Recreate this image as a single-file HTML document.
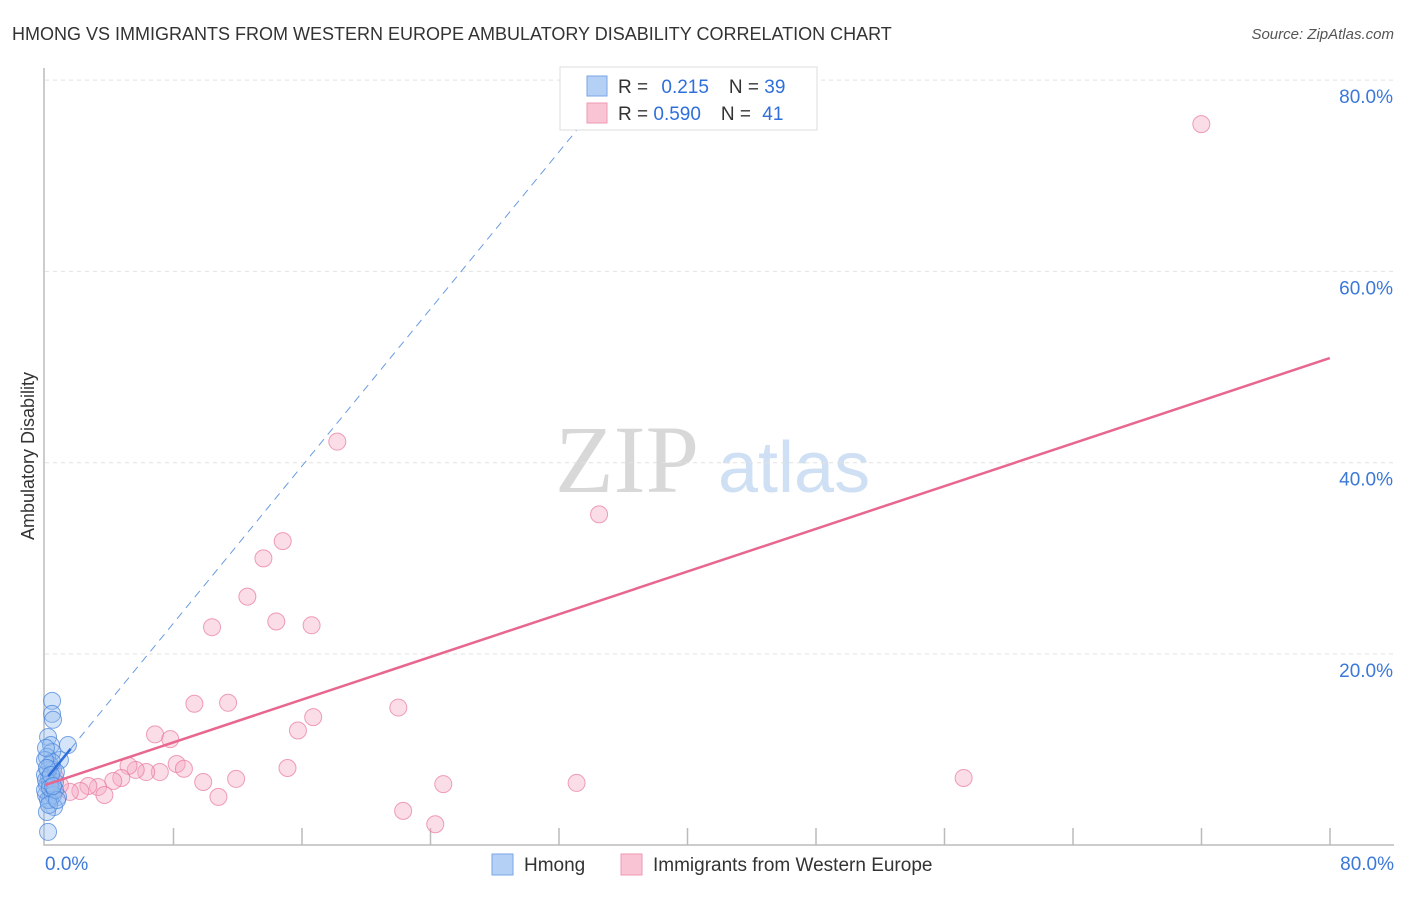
<!DOCTYPE html>
<html><head><meta charset="utf-8"><style>
body{margin:0;background:#fff;font-family:"Liberation Sans",sans-serif}
</style></head><body>
<svg width="1406" height="892" id="svg" xmlns="http://www.w3.org/2000/svg" font-family="Liberation Sans, sans-serif">
<text x="12" y="40" font-size="18" fill="#333">HMONG VS IMMIGRANTS FROM WESTERN EUROPE AMBULATORY DISABILITY CORRELATION CHART</text>
<text x="1394" y="39" font-size="15" fill="#555" font-style="italic" text-anchor="end">Source: ZipAtlas.com</text>
<text x="555" y="492" font-size="96" fill="#d8d8d8" font-family="Liberation Serif, serif">ZIP</text>
<text x="718" y="492" font-size="72" fill="#cfe0f4">atlas</text>
<text transform="translate(34,456) rotate(-90)" font-size="18" fill="#333" text-anchor="middle">Ambulatory Disability</text>
<g id="grid"></g><g id="marks"></g>
<g>
<rect x="560" y="67" width="257" height="63" fill="#fff" stroke="#ddd"/>
<rect x="587" y="76" width="20" height="20" fill="#b5d0f5" stroke="#7aa6e6"/>
<rect x="587" y="103" width="20" height="20" fill="#f9c4d4" stroke="#ee9ab4"/>
<text x="618" y="93" font-size="19" fill="#333">R = <tspan fill="#2f6fdb" dx="8">0.215</tspan><tspan dx="20" fill="#333">N = </tspan><tspan fill="#2f6fdb">39</tspan></text>
<text x="618" y="120" font-size="19" fill="#333">R = <tspan fill="#2f6fdb">0.590</tspan><tspan dx="20" fill="#333">N = </tspan><tspan fill="#2f6fdb" dx="6">41</tspan></text>
</g>
<g>
<rect x="492" y="854" width="21" height="21" fill="#b5d0f5" stroke="#7aa6e6"/>
<text x="524" y="871" font-size="19" fill="#333">Hmong</text>
<rect x="621" y="854" width="21" height="21" fill="#f9c4d4" stroke="#ee9ab4"/>
<text x="653" y="871" font-size="19" fill="#333">Immigrants from Western Europe</text>
</g>
</svg>
<script>
const blueX=[0.44,0.44,0.5,0.19,0.37,1.43,0.93,0.44,0.12,0.31,0.5,0,0.25,0.62,0.12,0.44,0.06,0.81,0.31,0.56,0.12,0.19,0,0.31,0.68,0.19,0.44,0.06,0.5,0.19,0,0.31,0.12,0.62,0.25,0.37,0.06,0.75,0.5];
const blueY=[15.1,13.74,13.12,11.32,10.48,10.48,8.92,9.76,9.24,8.4,7.88,7.36,7.04,6.62,6.3,5.78,5.26,5.06,4.74,4.0,3.48,1.4,5.78,6.52,7.66,7.88,8.7,6.82,5.26,4.74,8.92,6.0,8.08,5.78,4.22,7.36,10.18,4.74,6.2];
const pinkX=[72.0,18.2,34.5,14.8,13.6,12.6,14.4,16.6,10.4,9.3,11.4,22.0,16.7,15.75,6.85,7.8,8.2,8.65,7.15,6.3,5.65,5.2,4.75,4.25,3.3,2.7,2.2,1.55,0.93,0.62,0.44,3.7,10.8,9.85,11.9,15.1,24.8,33.1,57.2,22.3,24.3];
const pinkY=[75.4,42.2,34.6,31.8,30.0,26.0,23.4,23.0,22.8,14.8,14.9,14.4,13.4,12.0,11.6,11.1,8.5,8.0,7.66,7.66,7.88,8.3,7.04,6.72,6.1,6.2,5.68,5.58,6.3,7.14,5.46,5.26,5.06,6.62,6.94,8.08,6.4,6.52,7.04,3.6,2.2];
const yTicks=[20,40,60,80];
const xTickLabels=["0.0%","80.0%"];
const blueLine=[6.8,2.053]; // intercept, slope
const pinkLine=[6.3,0.558];
const NS="http://www.w3.org/2000/svg";
const sx=v=>45+v*16.06, sy=v=>845.3-v*9.565;
const grid=document.getElementById('grid'), marks=document.getElementById('marks');
function mk(p,tag,a){const e=document.createElementNS(NS,tag);for(const k in a)e.setAttribute(k,a[k]);p.appendChild(e);return e;}
yTicks.forEach(t=>{
 const l=mk(grid,'line',{x1:45,x2:1394,y1:sy(t),y2:sy(t),stroke:'#e2e2e2','stroke-dasharray':'4,4'});
 
 
 const tx=mk(grid,'text',{x:1393,y:sy(t)+23,'font-size':19,fill:'#3b78d8','text-anchor':'end'});
 tx.textContent=t.toFixed(1)+'%';
 
 
});
const ax=mk(grid,'path',{d:'M44,68V845H1394',fill:'none',stroke:'#bbb','stroke-width':1.5});


for(let i=1;i<=10;i++){const t=mk(grid,'line',{x1:45+128.5*i,x2:45+128.5*i,y1:828,y2:845,stroke:'#bbb','stroke-width':1.5});
 
 }
const xl0=mk(grid,'text',{x:45,y:870,'font-size':19,fill:'#3b78d8'});xl0.textContent=xTickLabels[0];


const xl1=mk(grid,'text',{x:1394,y:870,'font-size':19,fill:'#3b78d8','text-anchor':'end'});xl1.textContent=xTickLabels[1];


pinkX.forEach((x,i)=>{const c=mk(marks,'circle',{cx:sx(x),cy:sy(pinkY[i]),r:8.5,fill:'rgba(246,170,195,0.4)',stroke:'rgba(232,120,158,0.7)'});
 
 });
blueX.forEach((x,i)=>{const c=mk(marks,'circle',{cx:sx(x),cy:sy(blueY[i]),r:8.5,fill:'rgba(150,190,240,0.4)',stroke:'rgba(70,130,220,0.7)'});
 
 });
const bd=mk(marks,'line',{x1:sx(1.6),y1:sy(blueLine[0]+1.6*blueLine[1]),x2:sx(33.6),y2:sy(blueLine[0]+33.6*blueLine[1]),stroke:'#6a9be0','stroke-dasharray':'8,6','stroke-width':1});


const bs=mk(marks,'line',{x1:sx(0.2),y1:sy(blueLine[0]+0.2*blueLine[1]),x2:sx(1.6),y2:sy(blueLine[0]+1.6*blueLine[1]),stroke:'#2f6fdb','stroke-width':2.5});


const pl=mk(marks,'line',{x1:sx(0),y1:sy(pinkLine[0]),x2:sx(80),y2:sy(pinkLine[0]+80*pinkLine[1]),stroke:'#e8678f','stroke-width':2.5});


</script>
</body></html>
